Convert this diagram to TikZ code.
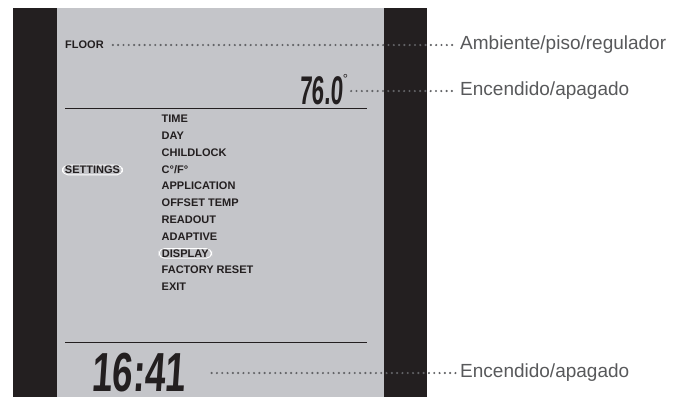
\documentclass[tikz,border=0pt]{standalone}
\usepackage{fontspec}
\setmainfont{Liberation Sans}
\newfontfamily\segfont{Liberation Sans Bold}[FakeSlant=0.1]
\usetikzlibrary{positioning}
\definecolor{lcdgray}{HTML}{C4C5C9}
\definecolor{bezel}{HTML}{231F20}
\definecolor{leadgray}{HTML}{626366}
\definecolor{labgray}{HTML}{58595B}
\tikzset{
  % --- Pantalla ----------------------------------------------
  bezelbar/.style={fill=bezel, draw=none},
  lcdpanel/.style={fill=lcdgray, draw=none},
  lcdrule/.style={draw=bezel, line width=1pt},
  lcdtxt/.style={font=\fontsize{11}{13}\selectfont\bfseries, text=bezel,
    inner xsep=3pt, inner ysep=1pt, anchor=west},
  lcdsel/.style={lcdtxt, draw=white, line width=0.9pt, rounded corners=5.5pt},
  lcdseg/.style={text=bezel, inner sep=0pt, anchor=base west},
  % --- Llamadas ----------------------------------------------
  callout/.style={font=\fontsize{19}{21}\selectfont, text=labgray,
    inner sep=1pt, anchor=west},
  dotline/.style={leadgray, line width=2.4pt, line cap=round,
    dash pattern=on 0pt off 5.3pt}
}
\begin{document}
\begin{tikzpicture}[x=1pt, y=-1pt]
  \useasboundingbox (0,0) rectangle (683,397);

  % --- Marco y fondo -----------------------------------------------
  \fill[lcdpanel] (57,8) rectangle (384,397);
  \fill[bezelbar] (13,8) rectangle (57,397);
  \fill[bezelbar] (384,8) rectangle (427,397);

  % --- Indicadores superiores ----------------------------------------
  \node[lcdtxt] (floor) at (62,45) {FLOOR};
  \node[lcdseg] (temp) at (299,104) {\smash{\scalebox{0.56}[1]{\fontsize{40}{40}\segfont 76.0}}\raisebox{21pt}{\fontsize{13}{13}\selectfont °}};
  \draw[lcdrule] (65,108) -- (367,108);

  % --- Menu ------------------------------------------------------------
  \node[lcdsel, inner xsep=2.5pt] (settings) at (62,170) {SETTINGS};
  \foreach \i/\txt/\sty in {0/TIME/lcdtxt, 1/DAY/lcdtxt, 2/CHILDLOCK/lcdtxt,
      3/{C°/F°}/lcdtxt, 4/APPLICATION/lcdtxt, 5/OFFSET TEMP/lcdtxt,
      6/READOUT/lcdtxt, 7/ADAPTIVE/lcdtxt, 8/DISPLAY/lcdsel,
      9/FACTORY RESET/lcdtxt, 10/EXIT/lcdtxt}
    \node[\sty] (m\i) at (158.5,119+16.8*\i) {\txt};

  % --- Reloj -----------------------------------------------------------
  \draw[lcdrule] (65,342) -- (367,342);
  \node[lcdseg] (clock) at (91,391) {\smash{\scalebox{0.67}[1]{\fontsize{55}{55}\segfont 16:41}}};

  % --- Llamadas --------------------------------------------------------
  \node[callout] (amb) at (459,45) {Ambiente/piso/regulador};
  \node[callout] (enc1) at (459,91) {Encendido/apagado};
  \node[callout] (enc2) at (459,373) {Encendido/apagado};

  \draw[dotline, shorten <=6pt, shorten >=3pt] (floor.east) -- (floor.east -| amb.west);
  \draw[dotline, shorten <=3pt, shorten >=3pt] (temp.east |- enc1.west) -- (enc1.west);
  \draw[dotline, shorten <=26pt, shorten >=3pt] (clock.east |- enc2.west) -- (enc2.west);

\end{tikzpicture}
\end{document}
